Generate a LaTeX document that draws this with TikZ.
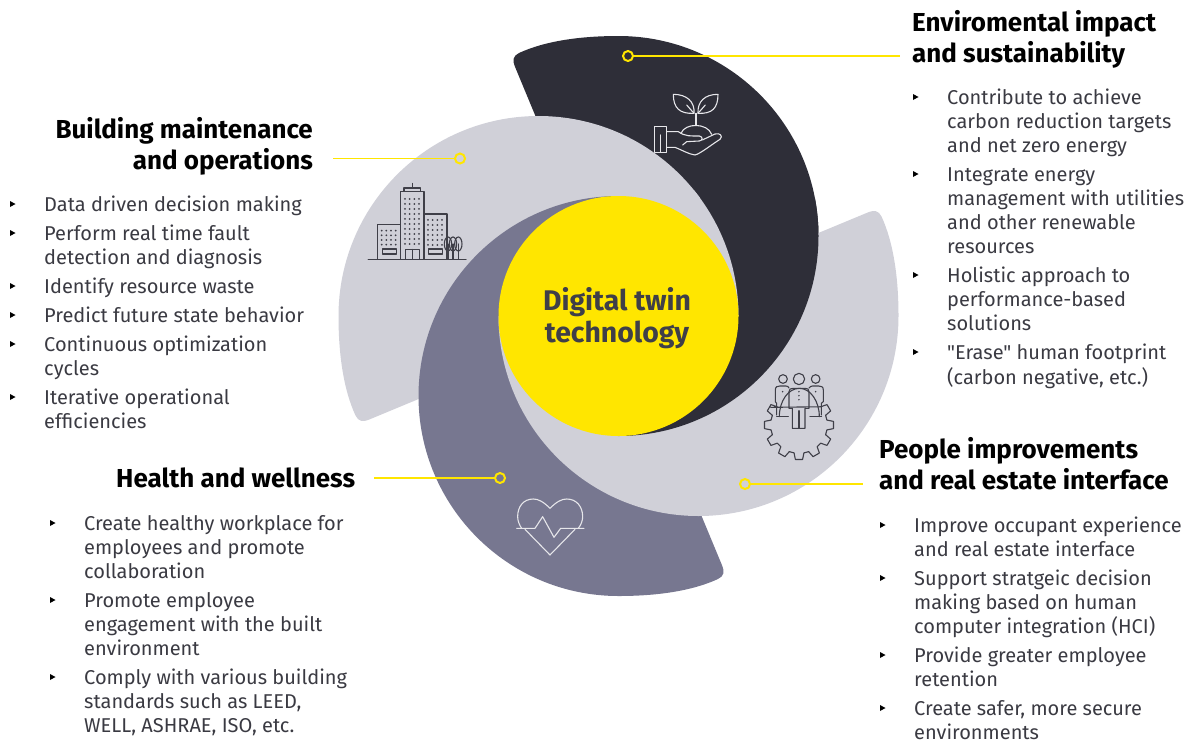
\documentclass[tikz,border=0pt]{standalone}
\usepackage{fontspec}
\setmainfont{Fira Sans}[Ligatures=TeXOff]
\definecolor{pdark}{HTML}{2E2E38}
\definecolor{plight}{HTML}{D0D0D8}
\definecolor{pgrey}{HTML}{777790}
\definecolor{eyyellow}{HTML}{FFE600}
\definecolor{ctext}{HTML}{3F3F48}
\definecolor{btext}{HTML}{3A3A42}
\definecolor{iconw}{HTML}{E6E6EA}
\newcommand\petalpath{(618.5,36) arc[start angle=-90,end angle=90,radius=200] -- (618.5,316) -- (515.5,68) .. controls (512,60) and (513,56) .. (519,53) .. controls (545,41) and (580,36) .. cycle}
\newcommand\bl[4]{\node[bodytext] (#1) at (#2,#3-9.8) {\strut #4};
  \fill[black] (#2-34,#3-3) -- ++(5.5,3) -- ++(-5.5,3) -- cycle;}
\begin{document}
\begin{tikzpicture}[x=1pt,y=-1pt,
  headtext/.style={inner sep=0pt,font=\fontsize{26}{30}\selectfont\bfseries,text=black,align=left},
  bodytext/.style={anchor=north west,inner sep=0pt,font=\fontsize{20}{24}\selectfont,text=btext,align=left},
  leader/.style={eyyellow,line width=1.3pt},
  ring/.style={circle,draw=eyyellow,line width=2pt,minimum size=10pt,inner sep=0pt},
  ico/.style={line width=1.1pt,line join=round,line cap=round}]
\useasboundingbox (0,0) rectangle (1191,740);
% petals
\fill[pdark] \petalpath;
\fill[plight,rotate around={90:(618.5,316)}] \petalpath;
\fill[pgrey,rotate around={180:(618.5,316)}] \petalpath;
\fill[plight,rotate around={-90:(618.5,316)}] \petalpath;
\begin{scope}
\clip (618.5,198) rectangle (1191,740);
\fill[pdark] \petalpath;
\end{scope}
\begin{scope}
\clip (618.5,190) rectangle (1191,316);
\fill[plight,rotate around={90:(618.5,316)}] \petalpath;
\end{scope}
% centre
\node[circle,fill=eyyellow,minimum size=240pt,inner sep=0pt] (hub) at (618.5,316) {};
\node[inner sep=0pt,align=center,text=ctext,font=\fontsize{28.4}{32}\selectfont\bfseries] (hubtext) at (617,318) {Digital twin\\technology};
% leaders
\node[ring] (r1) at (628,56) {}; \coordinate (e1) at (900,56); \draw[leader] (r1) -- (e1);
\node[ring] (r2) at (460,158.5) {}; \coordinate (e2) at (333,158.5); \draw[leader] (r2) -- (e2);
\node[ring] (r3) at (500,478) {}; \coordinate (e3) at (374,478); \draw[leader] (r3) -- (e3);
\node[ring] (r4) at (745,484) {}; \coordinate (e4) at (863,484); \draw[leader] (r4) -- (e4);
% headings
\node[headtext,anchor=north west] (h1) at (912,10) {\strut Enviromental impact\\and sustainability};
\node[headtext,anchor=north east,align=right] (h2) at (313,117) {\strut Building maintenance\\and operations};
\node[headtext,anchor=north west] (h3) at (116,466) {\strut Health and wellness};
\node[headtext,anchor=north west] (h4) at (879,437) {\strut People improvements\\and real estate interface};
% body right top
\bl{a1}{947}{97}{Contribute to achieve\\carbon reduction targets\\and net zero energy}
\bl{a2}{947}{174}{Integrate energy\\management with utilities\\and other renewable\\resources}
\bl{a3}{947}{275}{Holistic approach to\\performance-based\\solutions}
\bl{a4}{947}{352}{"Erase" human footprint\\(carbon negative, etc.)}
% body left
\bl{b1}{44}{204}{Data driven decision making}
\bl{b2}{44}{233}{Perform real time fault\\detection and diagnosis}
\bl{b3}{44}{286}{Identify resource waste}
\bl{b4}{44}{315}{Predict future state behavior}
\bl{b5}{44}{344}{Continuous optimization\\cycles}
\bl{b6}{44}{397}{Iterative operational\\efficiencies}
% body health
\bl{c1}{84}{523}{Create healthy workplace for\\employees and promote\\collaboration}
\bl{c2}{84}{600}{Promote employee\\engagement with the built\\environment}
\bl{c3}{84}{677}{Comply with various building\\standards such as LEED,\\WELL, ASHRAE, ISO, etc.}
% body people
\bl{d1}{914}{525}{Improve occupant experience\\and real estate interface}
\bl{d2}{914}{578}{Support stratgeic decision\\making based on human\\computer integration (HCI)}
\bl{d3}{914}{655}{Provide greater employee\\retention}
\bl{d4}{914}{708}{Create safer, more secure\\environments}
% building icon
\begin{scope}[shift={(330,30)},x=0.3333pt,y=-0.3333pt,draw=ctext,ico]
\draw[line width=1.4pt] (115,688) -- (408,688);
\draw (143,688) -- (143,583) -- (212,583) -- (212,688);
\draw (212,688) -- (212,484) -- (282,484) -- (282,688);
\draw (282,552) -- (351,552) -- (351,688);
\draw (222,484) -- (222,474) -- (272,474) -- (272,484) (247,474) -- (247,460);
\foreach \x in {225,239,253,267}\foreach \y in {507,522,537,552,567,582,597,612,627,642}{\fill[ctext] (\x,\y) circle (3);}
\foreach \x in {155,169,183,197}\foreach \y in {602,616,630,644}{\fill[ctext] (\x,\y) circle (3);}
\foreach \x in {294,308,322,336}\foreach \y in {570,585,600,615,630,645}{\fill[ctext] (\x,\y) circle (3);}
\draw (157,657) rectangle (199,672);
\draw (295,657) rectangle (337,672);
\draw (227,688) -- (227,658) -- (268,658) -- (268,688) (247,658) -- (247,688);
\foreach \x in {354,369,385}{\draw (\x,642) ellipse (11 and 21); \draw (\x,642) -- (\x,688);}
\end{scope}
% plant icon
\begin{scope}[shift={(620,30)},x=0.3333pt,y=-0.3333pt,draw=iconw,ico,line width=1.1pt]
\draw (228,285) -- (228,250);
\draw (222,250) .. controls (180,252) and (160,235) .. (160,193) .. controls (200,193) and (225,215) .. (222,250);
\draw (234,250) .. controls (276,252) and (294,235) .. (294,193) .. controls (254,193) and (232,215) .. (234,250);
\draw (222,250) -- (200,225) (234,250) -- (256,225);
\draw (183,310) .. controls (195,278) and (262,278) .. (275,313);
\draw (103,290) rectangle (140,368);
\draw (122,315) -- (122,366);
\draw (140,305) -- (175,305) .. controls (195,320) and (215,318) .. (238,318) .. controls (250,320) and (248,332) .. (238,333) -- (200,335) -- (188,345);
\draw (140,352) -- (165,352) .. controls (190,362) and (205,372) .. (225,375) .. controls (240,372) and (280,340) .. (300,328) .. controls (310,318) and (300,308) .. (285,312) -- (247,330);
\end{scope}
% people gear icon
\begin{scope}[shift={(620,320)},x=0.3333pt,y=-0.3333pt,draw=ctext,ico]
\draw (489,177) circle (13) (537,177) circle (17) (587,177) circle (13);
\draw (470,285) -- (470,250) -- (466,245) -- (466,210) .. controls (466,200) and (472,198) .. (480,198) -- (498,198) .. controls (503,198) and (505,200) .. (507,204);
\draw (604,285) -- (604,250) -- (610,245) -- (610,210) .. controls (610,200) and (604,198) .. (596,198) -- (578,198) .. controls (573,198) and (571,200) .. (567,204);
\draw (507,265) -- (507,215) .. controls (507,207) and (512,205) .. (520,205) -- (555,205) .. controls (563,205) and (567,207) .. (567,215) -- (567,265) -- (555,265) -- (555,325) -- (517,325) -- (517,265) -- cycle;
\draw (537,272) -- (537,325);
\foreach \y in {215,227,239}{\fill[ctext] (537,\y) circle (2.5);}
\fill[ctext] (488,215) circle (2.5) (587,215) circle (2.5);
\draw (470,290) -- (505,290) (570,290) -- (605,290);
\draw (478,290) arc[start angle=180,end angle=0,radius=60,y radius=-85];
\draw (452,262) \foreach \a in {-30,0,30,60,90,120,150,180,210}{ -- ([shift={(537,315)}]\a-10:85) -- ([shift={(537,315)}]\a-6:104) -- ([shift={(537,315)}]\a+6:104) -- ([shift={(537,315)}]\a+10:85)};
\end{scope}
% heart icon
\begin{scope}[shift={(400,400)},x=0.3333pt,y=-0.3333pt,draw=iconw,ico,line width=1.1pt]
\draw (450,325) .. controls (430,305) and (415,297) .. (400,297) .. controls (370,297) and (353,320) .. (353,350) .. controls (353,362) and (358,375) .. (365,385);
\draw (450,325) .. controls (470,305) and (485,297) .. (500,297) .. controls (530,297) and (548,320) .. (548,350) .. controls (548,362) and (543,375) .. (535,385);
\draw (350,385) -- (405,385) -- (428,350) -- (462,412) -- (482,385) -- (552,385);
\draw (375,388) -- (450,465) -- (525,388);
\end{scope}
\end{tikzpicture}
\end{document}
